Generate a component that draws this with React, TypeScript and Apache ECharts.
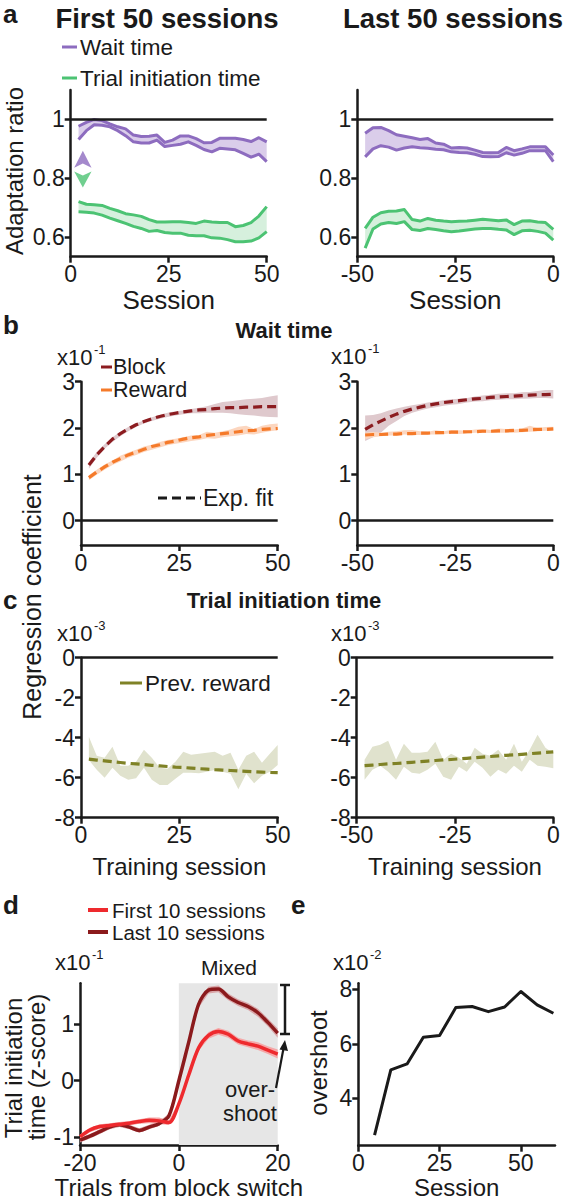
import React, { useEffect, useRef } from "react";
import * as echarts from "echarts";

const FONT = "'Liberation Sans', Helvetica, Arial, sans-serif";
const INK = "#1a1a1a";

// ---------- shared session axes ----------
const sessionsFirst = [2, 4, 6, 8, 10, 12, 14, 16, 18, 20, 22, 24, 26, 28, 30, 32, 34, 36, 38, 40, 42, 44, 46, 48, 50];
const sessionsLast = [-48, -46, -44, -42, -40, -38, -36, -34, -32, -30, -28, -26, -24, -22, -20, -18, -16, -14, -12, -10, -8, -6, -4, -2, 0];

// ---------- panel a: adaptation ratio ----------
const waitFirstHi = [0.977, 0.99, 1.0, 0.996, 0.985, 0.975, 0.968, 0.947, 0.942, 0.943, 0.947, 0.922, 0.93, 0.944, 0.944, 0.935, 0.921, 0.922, 0.936, 0.936, 0.936, 0.932, 0.925, 0.938, 0.924];
const waitFirstLo = [0.932, 0.962, 0.982, 0.98, 0.975, 0.962, 0.945, 0.924, 0.92, 0.92, 0.93, 0.908, 0.912, 0.916, 0.924, 0.912, 0.898, 0.89, 0.902, 0.9, 0.897, 0.885, 0.872, 0.882, 0.857];
const initFirstHi = [0.721, 0.712, 0.71, 0.708, 0.698, 0.69, 0.68, 0.676, 0.671, 0.66, 0.652, 0.652, 0.653, 0.653, 0.65, 0.647, 0.655, 0.652, 0.65, 0.65, 0.636, 0.64, 0.65, 0.672, 0.704];
const initFirstLo = [0.687, 0.685, 0.682, 0.675, 0.665, 0.656, 0.647, 0.637, 0.63, 0.62, 0.623, 0.616, 0.614, 0.614, 0.607, 0.605, 0.605, 0.598, 0.597, 0.592, 0.585, 0.585, 0.587, 0.598, 0.619];
const waitLastHi = [0.953, 0.972, 0.973, 0.962, 0.948, 0.943, 0.938, 0.932, 0.935, 0.92, 0.916, 0.903, 0.905, 0.903, 0.896, 0.888, 0.887, 0.888, 0.905, 0.894, 0.9, 0.907, 0.907, 0.907, 0.879];
const waitLastLo = [0.873, 0.9, 0.911, 0.906, 0.896, 0.903, 0.907, 0.904, 0.902, 0.899, 0.897, 0.89, 0.888, 0.887, 0.882, 0.874, 0.873, 0.874, 0.887, 0.879, 0.885, 0.894, 0.894, 0.894, 0.857];
const initLastHi = [0.63, 0.668, 0.683, 0.688, 0.689, 0.694, 0.66, 0.655, 0.664, 0.658, 0.655, 0.653, 0.654, 0.655, 0.658, 0.661, 0.659, 0.656, 0.659, 0.643, 0.655, 0.656, 0.652, 0.65, 0.627];
const initLastLo = [0.563, 0.628, 0.645, 0.65, 0.647, 0.653, 0.626, 0.623, 0.63, 0.626, 0.622, 0.619, 0.621, 0.625, 0.628, 0.63, 0.63, 0.627, 0.625, 0.609, 0.622, 0.624, 0.62, 0.614, 0.59];
const waitArrow = [3.1, 0.894];
const initArrow = [3.1, 0.769];

// ---------- panel b: wait time regression ----------
const blockFirstFit = [1.2, 1.42, 1.6, 1.76, 1.88, 1.98, 2.07, 2.14, 2.2, 2.25, 2.29, 2.32, 2.35, 2.37, 2.39, 2.4, 2.42, 2.43, 2.44, 2.44, 2.45, 2.45, 2.46, 2.46, 2.46];
const blockFirstHi = [1.25, 1.48, 1.65, 1.8, 1.92, 2.02, 2.1, 2.17, 2.23, 2.28, 2.33, 2.36, 2.38, 2.41, 2.44, 2.47, 2.52, 2.56, 2.58, 2.6, 2.62, 2.63, 2.65, 2.68, 2.71];
const blockFirstLo = [1.12, 1.36, 1.55, 1.7, 1.82, 1.93, 2.02, 2.1, 2.15, 2.2, 2.24, 2.27, 2.3, 2.32, 2.32, 2.33, 2.33, 2.33, 2.32, 2.3, 2.28, 2.27, 2.25, 2.24, 2.23];
const rewardFirstFit = [0.93, 1.05, 1.16, 1.26, 1.34, 1.42, 1.48, 1.54, 1.6, 1.64, 1.69, 1.72, 1.76, 1.79, 1.81, 1.84, 1.86, 1.88, 1.9, 1.92, 1.94, 1.95, 1.97, 1.98, 1.99];
const rewardFirstHi = [0.98, 1.1, 1.21, 1.3, 1.4, 1.47, 1.53, 1.6, 1.64, 1.7, 1.74, 1.77, 1.8, 1.84, 1.85, 1.92, 1.9, 1.93, 1.97, 2.03, 2.05, 1.98, 2.05, 2.08, 2.1];
const rewardFirstLo = [0.87, 0.99, 1.1, 1.2, 1.28, 1.36, 1.42, 1.48, 1.53, 1.58, 1.63, 1.66, 1.69, 1.72, 1.74, 1.78, 1.77, 1.8, 1.82, 1.84, 1.87, 1.86, 1.9, 1.93, 1.95];
const blockLastFit = [1.97, 2.07, 2.15, 2.23, 2.3, 2.36, 2.41, 2.45, 2.49, 2.52, 2.55, 2.57, 2.59, 2.61, 2.63, 2.64, 2.66, 2.67, 2.68, 2.69, 2.7, 2.71, 2.72, 2.72, 2.73];
const blockLastHi = [2.27, 2.28, 2.32, 2.38, 2.42, 2.46, 2.49, 2.52, 2.55, 2.57, 2.6, 2.62, 2.63, 2.65, 2.68, 2.7, 2.72, 2.74, 2.75, 2.75, 2.77, 2.78, 2.8, 2.82, 2.82];
const blockLastLo = [1.72, 1.8, 1.9, 2.05, 2.15, 2.26, 2.33, 2.38, 2.42, 2.45, 2.48, 2.5, 2.52, 2.55, 2.57, 2.58, 2.6, 2.61, 2.62, 2.62, 2.63, 2.64, 2.65, 2.65, 2.64];
const rewardLastFit = [1.85, 1.86, 1.86, 1.87, 1.87, 1.88, 1.88, 1.89, 1.89, 1.9, 1.9, 1.91, 1.91, 1.92, 1.92, 1.93, 1.93, 1.94, 1.94, 1.95, 1.95, 1.96, 1.97, 1.97, 1.98];
const rewardLastHi = [1.9, 1.92, 1.9, 1.92, 1.93, 1.95, 1.96, 1.93, 1.92, 1.95, 1.93, 1.96, 1.95, 1.94, 1.97, 1.98, 1.96, 1.99, 1.98, 1.97, 1.99, 2.05, 2.0, 2.02, 2.03];
const rewardLastLo = [1.76, 1.8, 1.82, 1.84, 1.84, 1.86, 1.85, 1.85, 1.86, 1.86, 1.87, 1.88, 1.87, 1.88, 1.9, 1.9, 1.89, 1.9, 1.9, 1.9, 1.91, 1.92, 1.93, 1.94, 1.94];

// ---------- panel c: trial initiation regression ----------
const prevFirstFit = [-5.07, -5.12, -5.16, -5.2, -5.24, -5.28, -5.31, -5.34, -5.38, -5.41, -5.44, -5.47, -5.49, -5.52, -5.55, -5.57, -5.6, -5.62, -5.64, -5.66, -5.68, -5.7, -5.72, -5.74, -5.75];
const prevFirstHi = [-3.95, -4.9, -5.0, -4.45, -5.4, -5.4, -5.2, -4.6, -5.0, -5.5, -5.55, -5.2, -4.7, -4.85, -4.8, -4.75, -4.7, -4.9, -4.75, -5.6, -4.9, -4.7, -5.25, -4.8, -4.37];
const prevFirstLo = [-5.12, -5.6, -6.0, -5.5, -5.9, -6.1, -6.03, -5.5, -6.1, -6.37, -6.37, -6.05, -5.75, -5.75, -5.78, -5.7, -5.62, -5.7, -5.8, -6.58, -5.8, -6.28, -5.9, -5.7, -5.37];
const prevLastFit = [-5.4, -5.37, -5.34, -5.31, -5.29, -5.26, -5.23, -5.2, -5.17, -5.14, -5.11, -5.09, -5.06, -5.03, -5.0, -4.97, -4.94, -4.91, -4.88, -4.86, -4.83, -4.8, -4.77, -4.74, -4.71];
const prevLastHi = [-5.1, -4.45, -4.35, -4.15, -5.1, -4.3, -4.75, -4.75, -4.7, -4.2, -5.1, -4.8, -5.0, -5.3, -4.5, -4.8, -4.9, -4.6, -5.1, -4.3, -5.2, -4.6, -3.85, -4.5, -4.78];
const prevLastLo = [-6.1, -5.6, -5.4, -5.7, -6.1, -5.45, -5.75, -5.8, -5.6, -5.3, -5.95, -6.1, -5.45, -5.7, -5.2, -5.5, -5.95, -5.6, -5.8, -5.4, -5.7, -5.1, -5.4, -5.45, -5.53];

// ---------- panel d: block switch ----------
const trialsX = [-20, -18, -16, -14, -12, -10, -8, -6, -4, -2, 0, 2, 4, 6, 8, 10, 12, 14, 16, 18, 20];
const first10Mean = [-0.99, -0.87, -0.81, -0.79, -0.77, -0.75, -0.72, -0.7, -0.71, -0.74, -0.41, 0.1, 0.58, 0.8, 0.87, 0.82, 0.7, 0.65, 0.61, 0.54, 0.47];
const first10Sem = [0.04, 0.04, 0.04, 0.04, 0.04, 0.04, 0.04, 0.05, 0.06, 0.04, 0.04, 0.05, 0.05, 0.06, 0.06, 0.06, 0.06, 0.06, 0.07, 0.07, 0.08];
const last10Mean = [-1.05, -0.98, -0.9, -0.82, -0.78, -0.82, -0.88, -0.82, -0.76, -0.62, 0.0, 0.68, 1.35, 1.6, 1.62, 1.48, 1.38, 1.31, 1.2, 1.03, 0.84];
const last10Sem = [0.04, 0.04, 0.04, 0.04, 0.04, 0.04, 0.04, 0.04, 0.04, 0.04, 0.05, 0.05, 0.06, 0.06, 0.06, 0.06, 0.06, 0.06, 0.07, 0.07, 0.08];
const mixedRange = [0, 20];

// ---------- panel e: overshoot ----------
const overshootX = [5, 10, 15, 20, 25, 30, 35, 40, 45, 50, 55, 60];
const overshootY = [2.65, 5.04, 5.26, 6.24, 6.3, 7.33, 7.37, 7.18, 7.35, 7.92, 7.43, 7.12];

// ---------- ticks ----------
const aYTicks = [0.6, 0.8, 1];
const firstXTicks = [0, 25, 50];
const lastXTicks = [-50, -25, 0];
const bYTicks = [0, 1, 2, 3];
const cYTicks = [-8, -6, -4, -2, 0];
const dXTicks = [-20, 0, 20];
const dYTicks = [-1, 0, 1];
const eXTicks = [0, 25, 50];
const eYTicks = [4, 6, 8];

// ---------- colours ----------
const PURPLE = "#8d6cbf";
const PURPLE_FILL = "#dacdea";
const GREEN = "#4cc373";
const GREEN_FILL = "#d6f0dd";
const BLOCK = "#8c1c20";
const BLOCK_FILL = "#dfc9cd";
const REWARD = "#f57a2a";
const REWARD_FILL = "#fcd6bf";
const OLIVE = "#7f8226";
const OLIVE_FILL = "#e0e2cd";
const RED = "#ee2a2e";
const RED_FILL = "#f5a8a8";
const DARKRED = "#8b1a1c";
const DARKRED_FILL = "#d9a6a8";

const GRIDS = [
  [70.7, 90, 196, 166.7],
  [357.3, 90, 196, 166.7],
  [81, 381.7, 196.7, 163.3],
  [357.3, 381.7, 196, 163.3],
  [81, 657.7, 196.7, 160],
  [356.7, 657.7, 196.6, 160],
  [80, 983.3, 197.7, 161.7],
  [358.3, 983.3, 196.7, 162.4],
];

function axis(kind: string, gi: number, min: number, max: number, ticks: number[], extra: any = {}) {
  return {
    type: "value",
    gridIndex: gi,
    min,
    max,
    axisLine: { show: true, onZero: false, lineStyle: { color: INK, width: 2.5 } },
    axisTick: { show: true, inside: false, length: 6, customValues: ticks, lineStyle: { color: INK, width: 2.5 } },
    axisLabel: { show: true, customValues: ticks, color: INK, fontSize: 23, fontFamily: FONT, margin: kind === "x" ? 6 : 6 },
    splitLine: { show: false },
    ...extra,
  };
}

function xName(name: string, gap: number, size = 24) {
  return {
    name,
    nameLocation: "middle",
    nameGap: gap,
    nameTextStyle: { color: INK, fontSize: size, fontFamily: FONT, verticalAlign: "top" },
  };
}

function band(gi: number, xs: number[], lo: number[], hi: number[], color: string) {
  return {
    type: "custom",
    xAxisIndex: gi,
    yAxisIndex: gi,
    z: 1,
    silent: true,
    data: xs.map((x, i) => [x, lo[i], hi[i]]),
    encode: { x: 0, y: [1, 2] },
    renderItem: (params: any, api: any) => {
      if (params.dataIndex !== 0) return null;
      const pts: number[][] = [];
      for (let i = 0; i < xs.length; i++) pts.push(api.coord([xs[i], hi[i]]));
      for (let i = xs.length - 1; i >= 0; i--) pts.push(api.coord([xs[i], lo[i]]));
      return { type: "polygon", shape: { points: pts }, style: { fill: color } };
    },
  };
}

function line(gi: number, xs: number[], ys: number[], color: string, width: number, opts: any = {}) {
  const s: any = {
    type: "line",
    xAxisIndex: gi,
    yAxisIndex: gi,
    z: 3,
    silent: true,
    symbol: "none",
    showSymbol: false,
    smooth: opts.smooth || false,
    data: xs.map((x, i) => [x, ys[i]]),
    lineStyle: { color, width, type: opts.dashed ? [9, 5] : "solid", cap: "butt", join: "round" },
  };
  if (opts.refY !== undefined) {
    s.markLine = {
      silent: true,
      symbol: ["none", "none"],
      label: { show: false },
      lineStyle: { color: INK, width: 2.5, type: "solid" },
      data: [{ yAxis: opts.refY }],
    };
  }
  return s;
}

function txt(text: string, x: number, y: number, size: number, opts: any = {}) {
  const align = opts.align || "left";
  return {
    type: "text",
    x,
    y,
    rotation: opts.rot || 0,
    silent: true,
    z: 10,
    style: {
      text,
      fill: INK,
      font: `${opts.bold ? "bold " : ""}${size}px ${FONT}`,
      textAlign: align,
      textVerticalAlign: "middle",
      align,
      verticalAlign: "middle",
    },
  };
}

function seg(x1: number, y1: number, x2: number, y2: number, color: string, width: number, dash?: number[]) {
  return {
    type: "line",
    silent: true,
    z: 10,
    shape: { x1, y1, x2, y2 },
    style: { stroke: color, lineWidth: width, lineDash: dash || null },
  };
}

function buildOption() {
  const firstLo = first10Mean.map((m, i) => m - first10Sem[i]);
  const firstHi = first10Mean.map((m, i) => m + first10Sem[i]);
  const lastLo = last10Mean.map((m, i) => m - last10Sem[i]);
  const lastHi = last10Mean.map((m, i) => m + last10Sem[i]);

  const xAxis = [
    axis("x", 0, 0, 50, firstXTicks, xName("Session", 30, 26)),
    axis("x", 1, -50, 0, lastXTicks, xName("Session", 30, 26)),
    axis("x", 2, 0, 50, firstXTicks),
    axis("x", 3, -50, 0, lastXTicks),
    axis("x", 4, 0, 50, firstXTicks, xName("Training session", 37)),
    axis("x", 5, -50, 0, lastXTicks, xName("Training session", 37)),
    axis("x", 6, -20, 20, dXTicks, xName("Trials from block switch", 30)),
    axis("x", 7, 0, 60.5, eXTicks, xName("Session", 29)),
  ];
  const yAxis = [
    axis("y", 0, 0.534, 1.1, aYTicks),
    axis("y", 1, 0.534, 1.1, aYTicks),
    axis("y", 2, -0.525, 3, bYTicks),
    axis("y", 3, -0.525, 3, bYTicks),
    axis("y", 4, -8, 0, cYTicks),
    axis("y", 5, -8, 0, cYTicks),
    axis("y", 6, -1.136, 1.72, dYTicks),
    axis("y", 7, 2.26, 8.22, eYTicks),
  ];

  const series: any[] = [
    // a left
    band(0, sessionsFirst, waitFirstLo, waitFirstHi, PURPLE_FILL),
    band(0, sessionsFirst, initFirstLo, initFirstHi, GREEN_FILL),
    line(0, sessionsFirst, waitFirstHi, PURPLE, 3, { refY: 1 }),
    line(0, sessionsFirst, waitFirstLo, PURPLE, 3),
    line(0, sessionsFirst, initFirstHi, GREEN, 3),
    line(0, sessionsFirst, initFirstLo, GREEN, 3),
    {
      type: "scatter", xAxisIndex: 0, yAxisIndex: 0, silent: true, z: 4,
      data: [waitArrow], symbol: "arrow", symbolSize: [13, 17], itemStyle: { color: PURPLE },
    },
    {
      type: "scatter", xAxisIndex: 0, yAxisIndex: 0, silent: true, z: 4,
      data: [initArrow], symbol: "arrow", symbolRotate: 180, symbolSize: [13, 16], itemStyle: { color: GREEN },
    },
    // a right
    band(1, sessionsLast, waitLastLo, waitLastHi, PURPLE_FILL),
    band(1, sessionsLast, initLastLo, initLastHi, GREEN_FILL),
    line(1, sessionsLast, waitLastHi, PURPLE, 3, { refY: 1 }),
    line(1, sessionsLast, waitLastLo, PURPLE, 3),
    line(1, sessionsLast, initLastHi, GREEN, 3),
    line(1, sessionsLast, initLastLo, GREEN, 3),
    // b left
    band(2, sessionsFirst, blockFirstLo, blockFirstHi, BLOCK_FILL),
    band(2, sessionsFirst, rewardFirstLo, rewardFirstHi, REWARD_FILL),
    line(2, sessionsFirst, blockFirstFit, BLOCK, 3.2, { dashed: true, refY: 0 }),
    line(2, sessionsFirst, rewardFirstFit, REWARD, 3.2, { dashed: true }),
    // b right
    band(3, sessionsLast, blockLastLo, blockLastHi, BLOCK_FILL),
    band(3, sessionsLast, rewardLastLo, rewardLastHi, REWARD_FILL),
    line(3, sessionsLast, blockLastFit, BLOCK, 3.2, { dashed: true, refY: 0 }),
    line(3, sessionsLast, rewardLastFit, REWARD, 3.2, { dashed: true }),
    // c left
    band(4, sessionsFirst, prevFirstLo, prevFirstHi, OLIVE_FILL),
    line(4, sessionsFirst, prevFirstFit, OLIVE, 3.2, { dashed: true, refY: 0 }),
    // c right
    band(5, sessionsLast, prevLastLo, prevLastHi, OLIVE_FILL),
    line(5, sessionsLast, prevLastFit, OLIVE, 3.2, { dashed: true, refY: 0 }),
    // d
    {
      type: "line", xAxisIndex: 6, yAxisIndex: 6, z: 0, silent: true, symbol: "none",
      data: trialsX.map((x, i) => [x, first10Mean[i]]),
      lineStyle: { opacity: 0, width: 0 },
      markArea: {
        silent: true,
        itemStyle: { color: "#e6e6e6" },
        data: [[{ xAxis: mixedRange[0] }, { xAxis: mixedRange[1] }]],
      },
    },
    band(6, trialsX, lastLo, lastHi, DARKRED_FILL),
    band(6, trialsX, firstLo, firstHi, RED_FILL),
    line(6, trialsX, last10Mean, DARKRED, 3.5, { smooth: 0.3 }),
    line(6, trialsX, first10Mean, RED, 3.5, { smooth: 0.3 }),
    // e
    line(7, overshootX, overshootY, INK, 3),
  ];

  const g: any[] = [
    // panel a
    txt("a", 3, 14, 26, { bold: true }),
    txt("First 50 sessions", 167, 18, 27.5, { bold: true, align: "center" }),
    txt("Last 50 sessions", 453, 18, 27.5, { bold: true, align: "center" }),
    seg(62, 47, 77, 47, PURPLE, 3),
    txt("Wait time", 80, 47, 22.5),
    seg(62, 78, 77, 78, GREEN, 3),
    txt("Trial initiation time", 80, 78, 22.5),
    txt("Adaptation ratio", 14, 171, 24, { align: "center", rot: Math.PI / 2 }),
    // panel b
    txt("b", 3, 325, 26, { bold: true }),
    txt("Wait time", 284, 330, 22, { bold: true, align: "center" }),
    txt("x10", 57, 357, 22),
    txt("-1", 94, 349, 13),
    txt("x10", 331, 356, 22),
    txt("-1", 368, 348, 13),
    seg(101, 367, 112, 367, BLOCK, 3),
    txt("Block", 113, 367, 21.5),
    seg(101, 390, 112, 390, REWARD, 3),
    txt("Reward", 113, 390, 21.5),
    seg(158, 498, 201, 498, INK, 3, [9, 5]),
    txt("Exp. fit", 203, 498, 23),
    txt("Regression coefficient", 32, 597, 25, { align: "center", rot: Math.PI / 2 }),
    // panel c
    txt("c", 3, 600, 26, { bold: true }),
    txt("Trial initiation time", 284, 600, 22, { bold: true, align: "center" }),
    txt("x10", 57, 633, 22),
    txt("-3", 94, 625, 13),
    txt("x10", 331, 633, 22),
    txt("-3", 368, 625, 13),
    seg(120, 683, 142, 683, OLIVE, 3),
    txt("Prev. reward", 145, 683, 22.5),
    // panel d
    txt("d", 3, 905, 26, { bold: true }),
    seg(88, 910, 108, 910, RED, 4),
    txt("First 10 sessions", 112, 910, 20.5),
    seg(88, 932, 108, 932, DARKRED, 4),
    txt("Last 10 sessions", 112, 932, 20.5),
    txt("x10", 55, 962, 22),
    txt("-1", 92, 954, 13),
    txt("Mixed", 229, 967, 21, { align: "center" }),
    txt("Trial initiation", 13, 1068, 24, { align: "center", rot: Math.PI / 2 }),
    txt("time (z-score)", 36, 1067, 24, { align: "center", rot: Math.PI / 2 }),
    seg(285, 985, 285, 1034, INK, 2.5),
    seg(280, 985, 290, 985, INK, 2.5),
    seg(280, 1034, 290, 1034, INK, 2.5),
    seg(276, 1088, 283.6, 1048, INK, 2.2),
    {
      type: "polygon", silent: true, z: 10,
      shape: { points: [[285, 1040], [288, 1051], [279.5, 1049.5]] },
      style: { fill: INK },
    },
    txt("over-", 250, 1089, 22, { align: "center" }),
    txt("shoot", 250, 1113, 22, { align: "center" }),
    // panel e
    txt("e", 291, 905, 26, { bold: true }),
    txt("x10", 333, 962, 22),
    txt("-2", 370, 954, 13),
    txt("overshoot", 318, 1063, 24, { align: "center", rot: Math.PI / 2 }),
  ];

  return {
    animation: false,
    backgroundColor: "#ffffff",
    textStyle: { fontFamily: FONT },
    grid: GRIDS.map((r) => ({ left: r[0], top: r[1], width: r[2], height: r[3], containLabel: false, outerBoundsMode: "none" })),
    xAxis,
    yAxis,
    series,
    graphic: { elements: g },
  };
}

export default function App() {
  const ref = useRef<HTMLDivElement>(null);
  useEffect(() => {
    if (!ref.current) return;
    const chart = echarts.init(ref.current, null, { renderer: "svg" });
    chart.setOption(buildOption() as any);
    return () => chart.dispose();
  }, []);
  return (
    <div
      ref={ref}
      style={{ position: "absolute", left: 0, top: 0, width: 568, height: 1200, background: "#fff" }}
    />
  );
}
